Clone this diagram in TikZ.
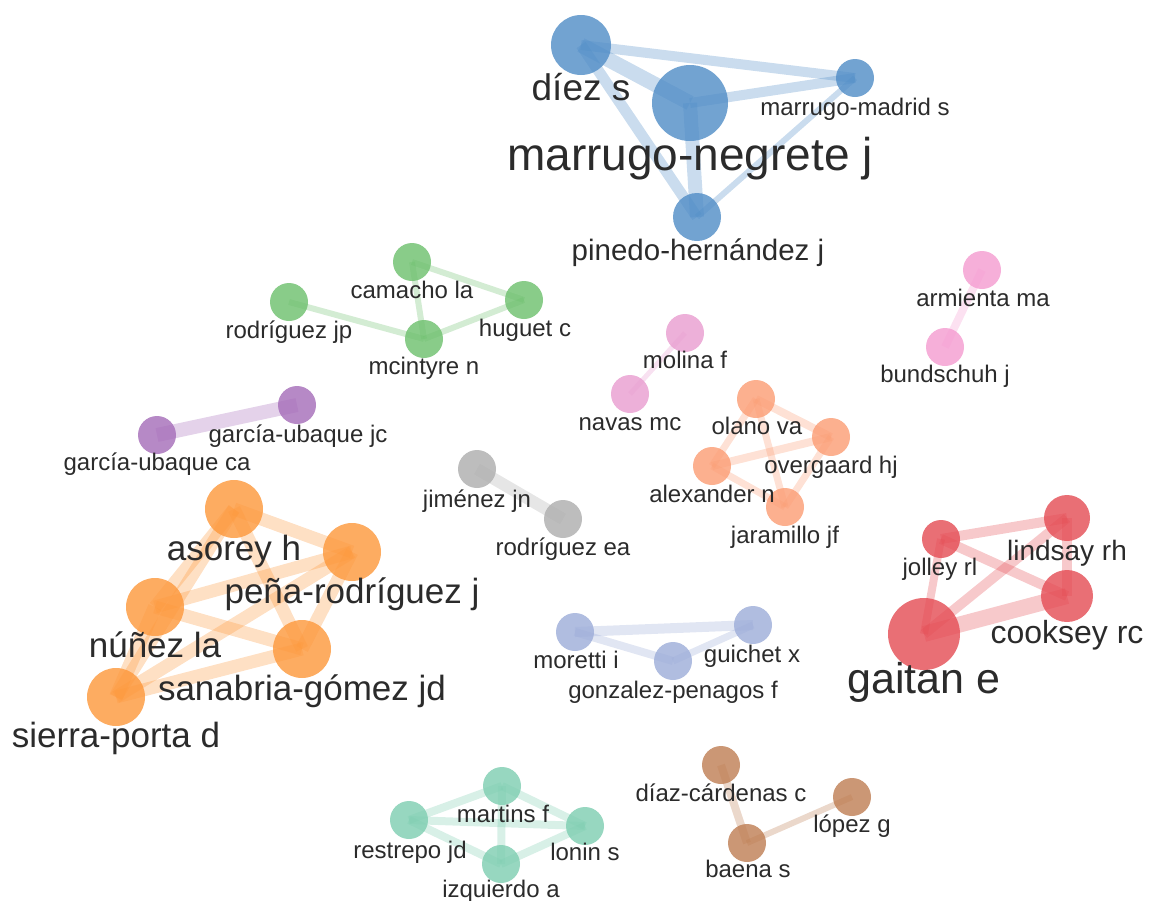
\documentclass[tikz,border=0pt]{standalone}
\usepackage{fontspec}
\setmainfont{Liberation Sans}
\usetikzlibrary{backgrounds}
\definecolor{cblue}{HTML}{4F8CC6}
\definecolor{cgreen}{HTML}{6CBF6C}
\definecolor{cpurple}{HTML}{A46BB8}
\definecolor{cgray}{HTML}{ADADAD}
\definecolor{cpinkA}{HTML}{E89CCF}
\definecolor{cpinkB}{HTML}{F49BD0}
\definecolor{csalmon}{HTML}{FB9C73}
\definecolor{corange}{HTML}{FD973A}
\definecolor{clav}{HTML}{9CACD8}
\definecolor{cred}{HTML}{E44B53}
\definecolor{cteal}{HTML}{7DCDB0}
\definecolor{cbrown}{HTML}{BE7D52}
\definecolor{txt}{HTML}{2B2B2B}
\newcommand{\fsz}[1]{\fontsize{#1}{#1}\selectfont}
\tikzset{
  au/.style={circle, draw=none, fill=#1, fill opacity=0.8, inner sep=0pt},
  ed/.style={draw=#1, draw opacity=0.3, line cap=butt},
  lb/.style={anchor=base, text=txt, inner sep=0pt},
  sm/.style={lb, font=\fsz{24}},
}
\begin{document}
\begin{tikzpicture}[x=1pt,y=-1pt]
\useasboundingbox (0,0) rectangle (1149,900);
% ---------- nodes ----------
% blue
\node[au=cblue, minimum size=60] (diez) at (581,45) {};
\node[au=cblue, minimum size=76] (negrete) at (690,103) {};
\node[au=cblue, minimum size=38] (madrid) at (855,78) {};
\node[au=cblue, minimum size=48] (pinedo) at (697,217) {};
% green
\node[au=cgreen, minimum size=38] (camacho) at (412,262) {};
\node[au=cgreen, minimum size=38] (rodjp) at (289,302) {};
\node[au=cgreen, minimum size=38] (huguet) at (524,300) {};
\node[au=cgreen, minimum size=38] (mcintyre) at (424,339) {};
% purple
\node[au=cpurple, minimum size=38] (gubca) at (157,435) {};
\node[au=cpurple, minimum size=38] (gubjc) at (297,405) {};
% gray
\node[au=cgray, minimum size=38] (jimenez) at (477,469) {};
\node[au=cgray, minimum size=38] (rodea) at (563,519) {};
% pink
\node[au=cpinkA, minimum size=38] (molina) at (685,333) {};
\node[au=cpinkA, minimum size=38] (navas) at (630,394) {};
\node[au=cpinkB, minimum size=38] (armienta) at (982,270) {};
\node[au=cpinkB, minimum size=38] (bund) at (945,347) {};
% salmon
\node[au=csalmon, minimum size=38] (olano) at (756,399) {};
\node[au=csalmon, minimum size=38] (overg) at (831,437) {};
\node[au=csalmon, minimum size=38] (alex) at (712,466) {};
\node[au=csalmon, minimum size=38] (jaram) at (785,507) {};
% orange
\node[au=corange, minimum size=58] (asorey) at (234,509) {};
\node[au=corange, minimum size=58] (pena) at (352,552) {};
\node[au=corange, minimum size=58] (nunez) at (155,607) {};
\node[au=corange, minimum size=58] (sanabria) at (302,649) {};
\node[au=corange, minimum size=58] (sierra) at (116,697) {};
% lavender
\node[au=clav, minimum size=38] (moretti) at (575,632) {};
\node[au=clav, minimum size=38] (guichet) at (753,625) {};
\node[au=clav, minimum size=38] (gonz) at (673,661) {};
% red
\node[au=cred, minimum size=38] (jolley) at (941,539) {};
\node[au=cred, minimum size=46] (lindsay) at (1067,518) {};
\node[au=cred, minimum size=52] (cooksey) at (1067,596) {};
\node[au=cred, minimum size=72] (gaitan) at (924,634) {};
% teal
\node[au=cteal, minimum size=38] (martins) at (502,786) {};
\node[au=cteal, minimum size=38] (restrepo) at (409,820) {};
\node[au=cteal, minimum size=38] (lonin) at (585,826) {};
\node[au=cteal, minimum size=38] (izq) at (501,864) {};
% brown
\node[au=cbrown, minimum size=38] (diazc) at (721,765) {};
\node[au=cbrown, minimum size=38] (lopez) at (852,797) {};
\node[au=cbrown, minimum size=38] (baena) at (747,843) {};
% ---------- edges ----------
\begin{scope}[on background layer]
\draw[ed=cblue, line width=15] (diez.center) -- (negrete.center);
\draw[ed=cblue, line width=10] (diez.center) -- (madrid.center);
\draw[ed=cblue, line width=11] (diez.center) -- (pinedo.center);
\draw[ed=cblue, line width=10] (negrete.center) -- (madrid.center);
\draw[ed=cblue, line width=14] (negrete.center) -- (pinedo.center);
\draw[ed=cblue, line width=6] (madrid.center) -- (pinedo.center);
\draw[ed=cgreen, line width=6] (camacho.center) -- (huguet.center);
\draw[ed=cgreen, line width=6] (camacho.center) -- (mcintyre.center);
\draw[ed=cgreen, line width=6] (rodjp.center) -- (mcintyre.center);
\draw[ed=cgreen, line width=6] (mcintyre.center) -- (huguet.center);
\draw[ed=cpurple, line width=14] (gubca.center) -- (gubjc.center);
\draw[ed=cgray, line width=12] (jimenez.center) -- (rodea.center);
\draw[ed=cpinkA, line width=5] (molina.center) -- (navas.center);
\draw[ed=cpinkB, line width=8] (armienta.center) -- (bund.center);
\draw[ed=csalmon, line width=8] (olano.center) -- (overg.center);
\draw[ed=csalmon, line width=7] (olano.center) -- (alex.center);
\draw[ed=csalmon, line width=7] (olano.center) -- (jaram.center);
\draw[ed=csalmon, line width=8] (alex.center) -- (overg.center);
\draw[ed=csalmon, line width=7] (alex.center) -- (jaram.center);
\draw[ed=csalmon, line width=7] (overg.center) -- (jaram.center);
\draw[ed=corange, line width=13] (asorey.center) -- (pena.center);
\draw[ed=corange, line width=13] (asorey.center) -- (nunez.center);
\draw[ed=corange, line width=13] (asorey.center) -- (sanabria.center);
\draw[ed=corange, line width=13] (asorey.center) -- (sierra.center);
\draw[ed=corange, line width=13] (pena.center) -- (nunez.center);
\draw[ed=corange, line width=13] (pena.center) -- (sanabria.center);
\draw[ed=corange, line width=13] (pena.center) -- (sierra.center);
\draw[ed=corange, line width=13] (nunez.center) -- (sanabria.center);
\draw[ed=corange, line width=14] (nunez.center) -- (sierra.center);
\draw[ed=corange, line width=13] (sanabria.center) -- (sierra.center);
\draw[ed=clav, line width=10] (moretti.center) -- (guichet.center);
\draw[ed=clav, line width=8] (moretti.center) -- (gonz.center);
\draw[ed=clav, line width=7] (gonz.center) -- (guichet.center);
\draw[ed=cred, line width=10] (jolley.center) -- (lindsay.center);
\draw[ed=cred, line width=10] (jolley.center) -- (cooksey.center);
\draw[ed=cred, line width=8] (jolley.center) -- (gaitan.center);
\draw[ed=cred, line width=10] (lindsay.center) -- (cooksey.center);
\draw[ed=cred, line width=10] (lindsay.center) -- (gaitan.center);
\draw[ed=cred, line width=16] (cooksey.center) -- (gaitan.center);
\draw[ed=cteal, line width=8] (restrepo.center) -- (martins.center);
\draw[ed=cteal, line width=8] (restrepo.center) -- (lonin.center);
\draw[ed=cteal, line width=8] (restrepo.center) -- (izq.center);
\draw[ed=cteal, line width=8] (martins.center) -- (lonin.center);
\draw[ed=cteal, line width=8] (martins.center) -- (izq.center);
\draw[ed=cteal, line width=8] (izq.center) -- (lonin.center);
\draw[ed=cbrown, line width=8] (diazc.center) -- (baena.center);
\draw[ed=cbrown, line width=6] (baena.center) -- (lopez.center);
\end{scope}
% ---------- labels ----------
\node[lb, font=\fsz{37}] (l-diez) at (581,100) {díez s};
\node[lb, font=\fsz{46}] (l-negrete) at (690,170) {marrugo-negrete j};
\node[sm] (l-madrid) at (855,115) {marrugo-madrid s};
\node[lb, font=\fsz{29.5}] (l-pinedo) at (698,260) {pinedo-hernández j};
\node[sm] (l-camacho) at (412,298) {camacho la};
\node[sm] (l-rodjp) at (289,338) {rodríguez jp};
\node[sm] (l-huguet) at (525,336) {huguet c};
\node[sm] (l-mcintyre) at (424,374) {mcintyre n};
\node[sm] (l-gubjc) at (298,442) {garcía-ubaque jc};
\node[sm] (l-gubca) at (157,470) {garcía-ubaque ca};
\node[sm] (l-jimenez) at (477,507) {jiménez jn};
\node[sm] (l-rodea) at (563,555) {rodríguez ea};
\node[sm] (l-molina) at (685,368) {molina f};
\node[sm] (l-navas) at (630,430) {navas mc};
\node[sm] (l-armienta) at (983,306) {armienta ma};
\node[sm] (l-bund) at (945,382) {bundschuh j};
\node[sm] (l-olano) at (757,434) {olano va};
\node[sm] (l-overg) at (831,473) {overgaard hj};
\node[sm] (l-alex) at (712,502) {alexander n};
\node[sm] (l-jaram) at (785,543) {jaramillo jf};
\node[lb, font=\fsz{35}] (l-asorey) at (234,560) {asorey h};
\node[lb, font=\fsz{35}] (l-pena) at (352,603) {peña-rodríguez j};
\node[lb, font=\fsz{35}] (l-nunez) at (155,657) {núñez la};
\node[lb, font=\fsz{35}] (l-sanabria) at (302,700) {sanabria-gómez jd};
\node[lb, font=\fsz{35}] (l-sierra) at (116,747) {sierra-porta d};
\node[sm] (l-moretti) at (576,668) {moretti i};
\node[sm] (l-guichet) at (752,662) {guichet x};
\node[sm] (l-gonz) at (673,698) {gonzalez-penagos f};
\node[sm] (l-jolley) at (940,575) {jolley rl};
\node[lb, font=\fsz{28}] (l-lindsay) at (1067,560) {lindsay rh};
\node[lb, font=\fsz{32}] (l-cooksey) at (1067,643) {cooksey rc};
\node[lb, font=\fsz{43}] (l-gaitan) at (924,693) {gaitan e};
\node[sm] (l-martins) at (503,822) {martins f};
\node[sm] (l-restrepo) at (410,858) {restrepo jd};
\node[sm] (l-lonin) at (585,860) {lonin s};
\node[sm] (l-izq) at (501,897) {izquierdo a};
\node[sm] (l-diazc) at (721,801) {díaz-cárdenas c};
\node[sm] (l-lopez) at (852,832) {lópez g};
\node[sm] (l-baena) at (748,877) {baena s};
\end{tikzpicture}
\end{document}
